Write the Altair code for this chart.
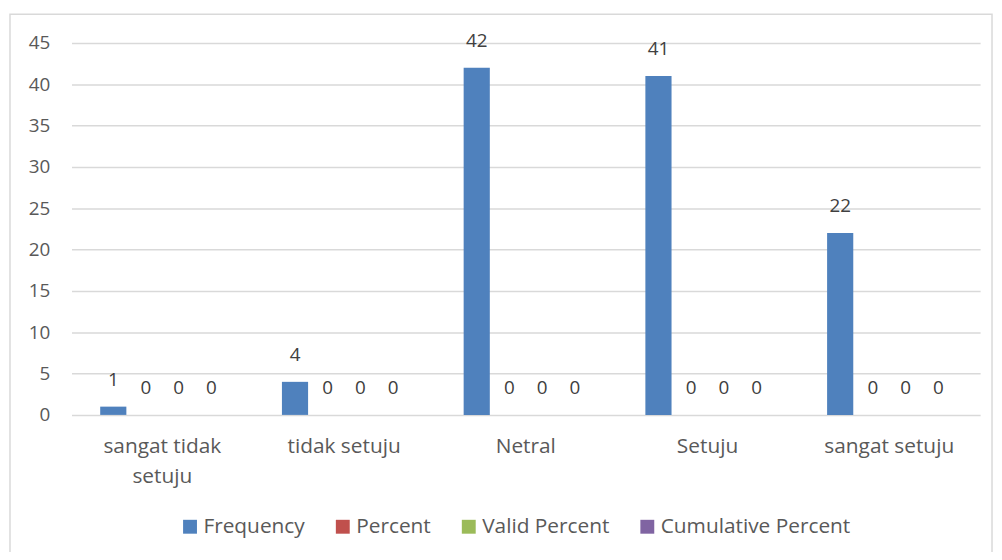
import altair as alt
import pandas as pd

categories = ["sangat tidak setuju", "tidak setuju", "Netral", "Setuju", "sangat setuju"]
series = ["Frequency", "Percent", "Valid Percent", "Cumulative Percent"]
frequency = [1, 4, 42, 41, 22]
percent = [0, 0, 0, 0, 0]
valid_percent = [0, 0, 0, 0, 0]
cumulative_percent = [0, 0, 0, 0, 0]
colors = ["#4F81BD", "#C0504D", "#9BBB59", "#8064A2"]
y_ticks = [0, 5, 10, 15, 20, 25, 30, 35, 40, 45]

rows = []
for s, vals in zip(series, [frequency, percent, valid_percent, cumulative_percent]):
    for c, v in zip(categories, vals):
        rows.append({"category": c, "series": s, "value": v})
df = pd.DataFrame(rows)

FONT = "Open Sans"
FS = 19
FS_TXT = 21

x_enc = alt.X(
    "category:N",
    sort=categories,
    title=None,
    scale=alt.Scale(paddingInner=0.28, paddingOuter=0.14),
    axis=alt.Axis(
        labelAngle=0,
        labelFontSize=FS_TXT,
        labelFont=FONT,
        labelColor="#595959",
        labelPadding=21,
        labelLineHeight=30,
        labelLimit=300,
        labelExpr="datum.label == 'sangat tidak setuju' ? ['sangat tidak', 'setuju'] : datum.label",
        ticks=False,
        domain=False,
        grid=False,
    ),
)
xo_enc = alt.XOffset(
    "series:N",
    sort=series,
    scale=alt.Scale(paddingInner=0.2, paddingOuter=0.1),
)
y_enc = alt.Y(
    "value:Q",
    title=None,
    scale=alt.Scale(domain=[0, 45], nice=False),
    axis=alt.Axis(
        values=y_ticks,
        labelFontSize=FS,
        labelFont=FONT,
        labelColor="#595959",
        labelPadding=22,
        ticks=False,
        domain=False,
        gridColor="#D9D9D9",
        gridWidth=1.5,
    ),
)

frame = alt.Chart(pd.DataFrame({"k": [0]})).mark_rect(
    fill=None, stroke="#D9D9D9", strokeWidth=1.5, clip=False
).encode(
    x=alt.value(-62), x2=alt.value(928), y=alt.value(-29), y2=alt.value(520)
)

bars = alt.Chart(df).mark_bar().encode(
    x=x_enc,
    xOffset=xo_enc,
    y=y_enc,
    color=alt.Color(
        "series:N",
        sort=series,
        scale=alt.Scale(domain=series, range=colors),
        legend=alt.Legend(
            title=None,
            orient="none",
            direction="horizontal",
            legendX=109,
            legendY=477,
            symbolType="square",
            symbolSize=196,
            symbolStrokeWidth=0,
            labelFontSize=FS_TXT,
            labelFont=FONT,
            labelColor="#595959",
            labelLimit=300,
            columnPadding=27,
            labelOffset=3,
        ),
    ),
)

labels = alt.Chart(df).mark_text(
    dy=-27, baseline="middle", fontSize=FS, font=FONT, color="#404040"
).encode(
    x=alt.X("category:N", sort=categories),
    xOffset=alt.XOffset("series:N", sort=series),
    y="value:Q",
    text="value:Q",
)

chart = (
    alt.layer(frame, bars, labels)
    .properties(
        width=916,
        height=375,
        autosize=alt.AutoSizeParams(type="none"),
        padding={"left": 64, "top": 33, "right": 14, "bottom": 136},
        background="white",
    )
    .configure_view(stroke=None)
)

chart.save("out.html", embed_options={"renderer": "svg", "actions": False})
